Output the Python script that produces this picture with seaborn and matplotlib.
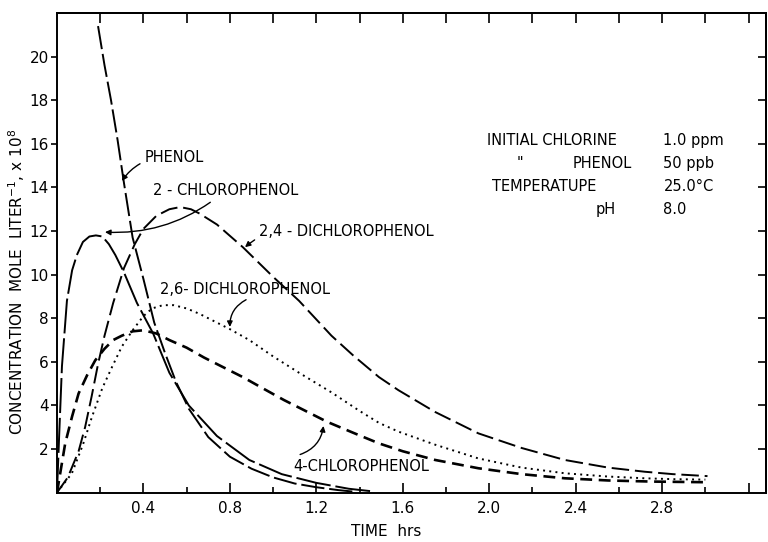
import pandas as pd
import seaborn as sns
import matplotlib.pyplot as plt

# concentrations, mole/liter x 1e8 ; time in hrs
phenol_t = [0.19, 0.22, 0.25, 0.28, 0.31, 0.35, 0.40, 0.45, 0.50, 0.55, 0.61, 0.70, 0.80, 0.90, 1.00, 1.10, 1.20, 1.30, 1.38]
phenol_c = [21.4, 19.6, 18.0, 16.2, 14.2, 11.7, 9.8, 7.8, 6.4, 5.1, 3.85, 2.55, 1.65, 1.1, 0.7, 0.42, 0.25, 0.12, 0.04]

cp2_t = [0.0, 0.01, 0.023, 0.046, 0.07, 0.092, 0.12, 0.15, 0.18, 0.21, 0.24, 0.27, 0.31, 0.37, 0.445, 0.52, 0.61, 0.74, 0.89, 1.04, 1.20, 1.35, 1.47]
cp2_c = [0.0, 2.6, 5.8, 8.8, 10.2, 10.9, 11.5, 11.75, 11.8, 11.75, 11.4, 10.9, 10.1, 8.7, 7.3, 5.5, 4.0, 2.6, 1.5, 0.85, 0.45, 0.18, 0.05]

dcp24_t = [0.0, 0.05, 0.10, 0.13, 0.16, 0.19, 0.22, 0.26, 0.31, 0.36, 0.40, 0.46, 0.52, 0.57, 0.62, 0.66, 0.74, 0.86, 1.00, 1.12, 1.27, 1.37, 1.49, 1.58, 1.75, 1.95, 2.15, 2.35, 2.55, 2.72, 2.85, 3.01]
dcp24_c = [0.0, 0.7, 1.9, 3.0, 4.4, 5.9, 7.2, 8.7, 10.3, 11.4, 12.1, 12.7, 13.0, 13.1, 13.0, 12.8, 12.3, 11.26, 9.9, 8.8, 7.2, 6.3, 5.3, 4.7, 3.7, 2.72, 2.05, 1.5, 1.15, 0.96, 0.85, 0.76]

cp4_t = [0.0, 0.038, 0.07, 0.10, 0.14, 0.177, 0.22, 0.26, 0.30, 0.35, 0.40, 0.46, 0.52, 0.60, 0.68, 0.76, 0.86, 0.95, 1.05, 1.15, 1.25, 1.37, 1.49, 1.60, 1.75, 1.95, 2.15, 2.35, 2.55, 2.75, 3.0]
cp4_c = [0.0, 2.26, 3.5, 4.55, 5.4, 6.07, 6.6, 7.0, 7.2, 7.4, 7.45, 7.3, 7.0, 6.65, 6.2, 5.8, 5.3, 4.8, 4.25, 3.75, 3.25, 2.75, 2.26, 1.9, 1.5, 1.12, 0.85, 0.66, 0.56, 0.51, 0.48]

dcp26_t = [0.0, 0.069, 0.12, 0.162, 0.21, 0.255, 0.30, 0.35, 0.40, 0.44, 0.49, 0.54, 0.60, 0.66, 0.80, 0.89, 1.00, 1.12, 1.27, 1.40, 1.49, 1.58, 1.75, 1.95, 2.15, 2.35, 2.55, 2.72, 2.85, 3.0]
dcp26_c = [0.0, 0.89, 2.2, 3.48, 4.8, 5.77, 6.7, 7.45, 8.1, 8.45, 8.6, 8.6, 8.45, 8.2, 7.5, 7.0, 6.25, 5.5, 4.6, 3.75, 3.2, 2.8, 2.2, 1.57, 1.15, 0.89, 0.74, 0.66, 0.62, 0.6]

names = ["PHENOL", "2-CHLOROPHENOL", "2,4-DICHLOROPHENOL", "4-CHLOROPHENOL", "2,6-DICHLOROPHENOL"]

frames = []
for name, t, c in zip(names, [phenol_t, cp2_t, dcp24_t, cp4_t, dcp26_t],
                      [phenol_c, cp2_c, dcp24_c, cp4_c, dcp26_c]):
    frames.append(pd.DataFrame({"time": t, "conc": c, "compound": name}))
df = pd.concat(frames, ignore_index=True)

# line look per compound: (dash pattern, width)
styles = {
    "PHENOL": ((0, (12, 2.5)), 1.4),
    "2-CHLOROPHENOL": ((0, (18, 2.5)), 1.4),
    "2,4-DICHLOROPHENOL": ((0, (9, 3)), 1.4),
    "4-CHLOROPHENOL": ((0, (4.5, 2.5)), 1.9),
    "2,6-DICHLOROPHENOL": ((0, (1, 2.2)), 1.4),
}

sns.set_theme(style="ticks")
plt.rcParams["font.family"] = ["DejaVu Sans"]
for key in ["text.color", "axes.labelcolor", "xtick.color", "ytick.color", "axes.edgecolor"]:
    plt.rcParams[key] = "black"

fig = plt.figure(figsize=(7.68, 5.42), dpi=100)
ax = fig.add_axes([0.0742, 0.091, 0.923, 0.885])

for name in names:
    ls, lw = styles[name]
    sns.lineplot(data=df[df["compound"] == name], x="time", y="conc", ax=ax,
                 color="black", linestyle=ls, linewidth=lw,
                 estimator=None, sort=False, legend=False)

ax.set_xlim(0, 3.28)
ax.set_ylim(0, 22)

# axes / ticks
for sp in ax.spines.values():
    sp.set_linewidth(1.4)
    sp.set_color("black")

xmaj = [0.4, 0.8, 1.2, 1.6, 2.0, 2.4, 2.8, 3.2]
xlab = ["0.4", "0.8", "1.2", "1.6", "2.0", "2.4", "2.8", ""]
xmin = [0.2, 0.6, 1.0, 1.4, 1.8, 2.2, 2.6, 3.0]
ax.set_xticks(xmaj, xlab)
ax.set_xticks(xmin, minor=True)
ax.tick_params(axis="x", which="major", direction="in", length=7, width=1.2, labelsize=11, pad=6)
ax.tick_params(axis="x", which="minor", direction="in", length=4, width=1.2)

yt = [2, 4, 6, 8, 10, 12, 14, 16, 18, 20]
ax.set_yticks(yt, [str(v) for v in yt])
ax.tick_params(axis="y", direction="out", length=4, width=1.2, labelsize=11, pad=2)

top = ax.secondary_xaxis("top")
top.set_xticks(xmin + xmaj, [""] * (len(xmin) + len(xmaj)))
top.tick_params(direction="in", length=7, width=1.2)
top.spines["top"].set_linewidth(1.4)

right = ax.secondary_yaxis("right")
right.set_yticks(yt, [""] * len(yt))
right.tick_params(direction="in", length=6, width=1.2)
right.spines["right"].set_linewidth(1.4)

ax.set_xlabel("TIME  hrs", fontsize=11)
ax.xaxis.set_label_coords(0.465, -0.065)
ax.set_ylabel("CONCENTRATION  MOLE  LITER$^{-1}$, x 10$^{8}$", fontsize=11)
ax.yaxis.set_label_coords(-0.042, 0.44)

# curve labels with pointers
fs = 10.5
ax.annotate("PHENOL", xy=(0.30, 14.3), xytext=(0.405, 15.36), fontsize=fs, va="center",
            arrowprops=dict(arrowstyle="-|>", color="black", lw=1, shrinkA=1, shrinkB=0,
                            connectionstyle="arc3,rad=0.3", mutation_scale=8))
ax.annotate("2 - CHLOROPHENOL", xy=(0.222, 11.95), xytext=(0.442, 13.85), fontsize=fs, va="center",
            arrowprops=dict(arrowstyle="-|>", color="black", lw=1, shrinkA=1, shrinkB=0,
                            connectionstyle="arc3,rad=-0.2", mutation_scale=8))
ax.annotate("2,4 - DICHLOROPHENOL", xy=(0.87, 11.26), xytext=(0.935, 11.98), fontsize=fs, va="center",
            arrowprops=dict(arrowstyle="-|>", color="black", lw=1, shrinkA=1, shrinkB=0,
                            connectionstyle="arc3,rad=0.3", mutation_scale=8))
ax.annotate("2,6- DICHLOROPHENOL", xy=(0.80, 7.6), xytext=(0.475, 9.32), fontsize=fs, va="center")
ax.annotate("", xy=(0.80, 7.6), xytext=(0.875, 8.85),
            arrowprops=dict(arrowstyle="-|>", color="black", lw=1, shrinkA=0, shrinkB=0,
                            connectionstyle="arc3,rad=0.3", mutation_scale=8))
ax.annotate("4-CHLOROPHENOL", xy=(1.233, 3.06), xytext=(1.095, 1.22), fontsize=fs, va="center")
ax.annotate("", xy=(1.233, 3.06), xytext=(1.125, 1.75),
            arrowprops=dict(arrowstyle="-|>", color="black", lw=1, shrinkA=0, shrinkB=0,
                            connectionstyle="arc3,rad=0.3", mutation_scale=8))

# experimental conditions block
ax.text(1.99, 16.14, "INITIAL CHLORINE", fontsize=fs, va="center")
ax.text(2.128, 15.09, "\"", fontsize=fs, va="center")
ax.text(2.384, 15.09, "PHENOL", fontsize=fs, va="center")
ax.text(2.012, 14.03, "TEMPERATUPE", fontsize=fs, va="center")
ax.text(2.494, 12.98, "pH", fontsize=fs, va="center")
ax.text(2.806, 16.14, "1.0 ppm", fontsize=fs, va="center")
ax.text(2.806, 15.09, "50 ppb", fontsize=fs, va="center")
ax.text(2.806, 14.03, "25.0°C", fontsize=fs, va="center")
ax.text(2.806, 12.98, "8.0", fontsize=fs, va="center")

fig.savefig("out.png", dpi=100)
